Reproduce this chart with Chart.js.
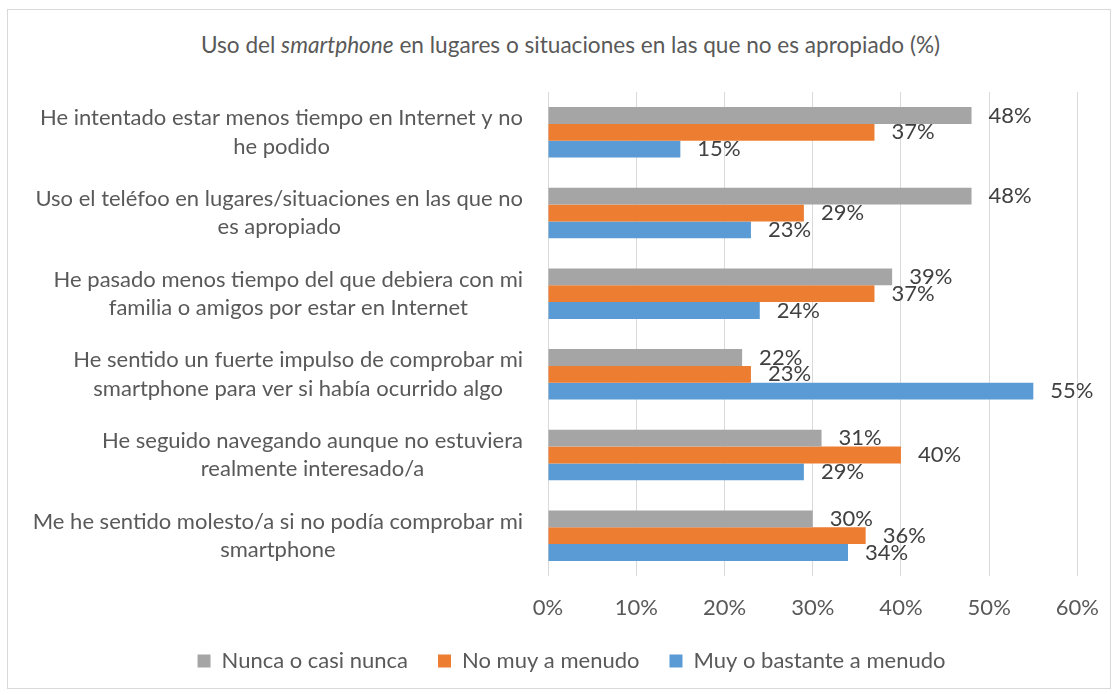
<!DOCTYPE html>
<html>
<head>
<meta charset="utf-8">
<script src="https://cdn.jsdelivr.net/npm/chart.js@4"></script>
<style>
  body { margin: 0; background: #fff; }
  #marco { position: absolute; left: 7px; top: 9px; width: 1102px; height: 678px; border: 1px solid #d9d9d9; }
  #titulo { position: absolute; left: 0; top: 30px; width: 1141px; text-align: center;
            font: 22.6px Lato, sans-serif; line-height: 30px; color: #595959; }
  #lienzo { position: absolute; left: 0; top: 0; }
</style>
</head>
<body>
<div id="marco"></div>
<div id="titulo">Uso del <i>smartphone</i> en lugares o situaciones en las que no es apropiado (%)</div>
<canvas id="lienzo" width="1118" height="695"></canvas>
<script>
//Las categorias (cada una en dos lineas)
var categorias = [
	["He intentado estar menos tiempo en Internet y no", "he podido"],
	["Uso el teléfoo en lugares/situaciones en las que no", "es apropiado"],
	["He pasado menos tiempo del que debiera con mi", "familia o amigos por estar en Internet"],
	["He sentido un fuerte impulso de comprobar mi", "smartphone para ver si había ocurrido algo"],
	["He seguido navegando aunque no estuviera", "realmente interesado/a"],
	["Me he sentido molesto/a si no podía comprobar mi", "smartphone"]
];

//Los valores (%)
var nuncaCasiNunca = [48, 48, 39, 22, 31, 30];
var noMuyAMenudo = [37, 29, 37, 23, 40, 36];
var muyBastanteAMenudo = [15, 23, 24, 55, 29, 34];

var nombresSeries = ["Nunca o casi nunca", "No muy a menudo", "Muy o bastante a menudo"];
var ticksX = [0, 10, 20, 30, 40, 50, 60];

var fuente = "Lato, sans-serif";
var gris = "#595959";

//Etiquetas de las categorias: bloque alineado a la derecha, lineas centradas
var etiquetasY = {
	id: "etiquetasY",
	afterDraw: function(chart){
		var ctx = chart.ctx;
		var y = chart.scales.y;
		ctx.save();
		ctx.font = "22px " + fuente;
		ctx.fillStyle = gris;
		ctx.textAlign = "center";
		ctx.textBaseline = "middle";
		var alto = 28.5;
		for(var i = 0 ; i < categorias.length ; i++){
			var lineas = categorias[i];
			var ancho = 0;
			for(var j = 0 ; j < lineas.length ; j++){
				ancho = Math.max(ancho, ctx.measureText(lineas[j]).width);
			}
			var cx = y.right - 25 - ancho / 2;
			var cy = y.getPixelForTick(i) - (lineas.length - 1) * alto / 2;
			for(var j = 0 ; j < lineas.length ; j++){
				ctx.fillText(lineas[j], cx, cy + j * alto);
			}
		}
		ctx.restore();
	}
};

//Valores al final de cada barra
var etiquetasValor = {
	id: "etiquetasValor",
	afterDatasetsDraw: function(chart){
		var ctx = chart.ctx;
		ctx.save();
		ctx.font = "22px " + fuente;
		ctx.fillStyle = "#404040";
		ctx.textAlign = "left";
		ctx.textBaseline = "middle";
		chart.data.datasets.forEach(function(ds, d){
			chart.getDatasetMeta(d).data.forEach(function(barra, i){
				ctx.fillText(ds.data[i] + "%", barra.x + 17, barra.y);
			});
		});
		ctx.restore();
	}
};

var ctx = document.getElementById("lienzo").getContext("2d");
var grafico = new Chart(ctx, {
	type: "bar",
	data: {
		labels: categorias,
		datasets: [
			{ label: nombresSeries[0], data: nuncaCasiNunca, backgroundColor: "#a5a5a5" },
			{ label: nombresSeries[1], data: noMuyAMenudo, backgroundColor: "#ed7d31" },
			{ label: nombresSeries[2], data: muyBastanteAMenudo, backgroundColor: "#5b9bd5" }
		]
	},
	options: {
		indexAxis: "y",
		responsive: false,
		animation: false,
		categoryPercentage: 0.627,
		barPercentage: 1,
		layout: { padding: { top: 92, left: 64, right: 39, bottom: 13 } },
		scales: {
			x: {
				min: 0,
				max: 60,
				afterBuildTicks: function(scale){
					scale.ticks = ticksX.map(function(v){ return { value: v }; });
				},
				afterFit: function(scale){ scale.height = 44; },
				grid: { color: "#d9d9d9", drawTicks: false },
				border: { display: false },
				ticks: {
					padding: 19,
					color: gris,
					font: { family: fuente, size: 22 },
					callback: function(v){ return v + "%"; }
				}
			},
			y: {
				afterFit: function(scale){ scale.width = 484; },
				grid: { display: false },
				border: { display: false },
				ticks: { display: false }
			}
		},
		plugins: {
			legend: {
				position: "bottom",
				labels: {
					boxWidth: 13,
					boxHeight: 13,
					padding: 30,
					color: gris,
					font: { family: fuente, size: 22 }
				}
			},
			tooltip: { enabled: false }
		}
	},
	plugins: [etiquetasY, etiquetasValor]
});
</script>
</body>
</html>
